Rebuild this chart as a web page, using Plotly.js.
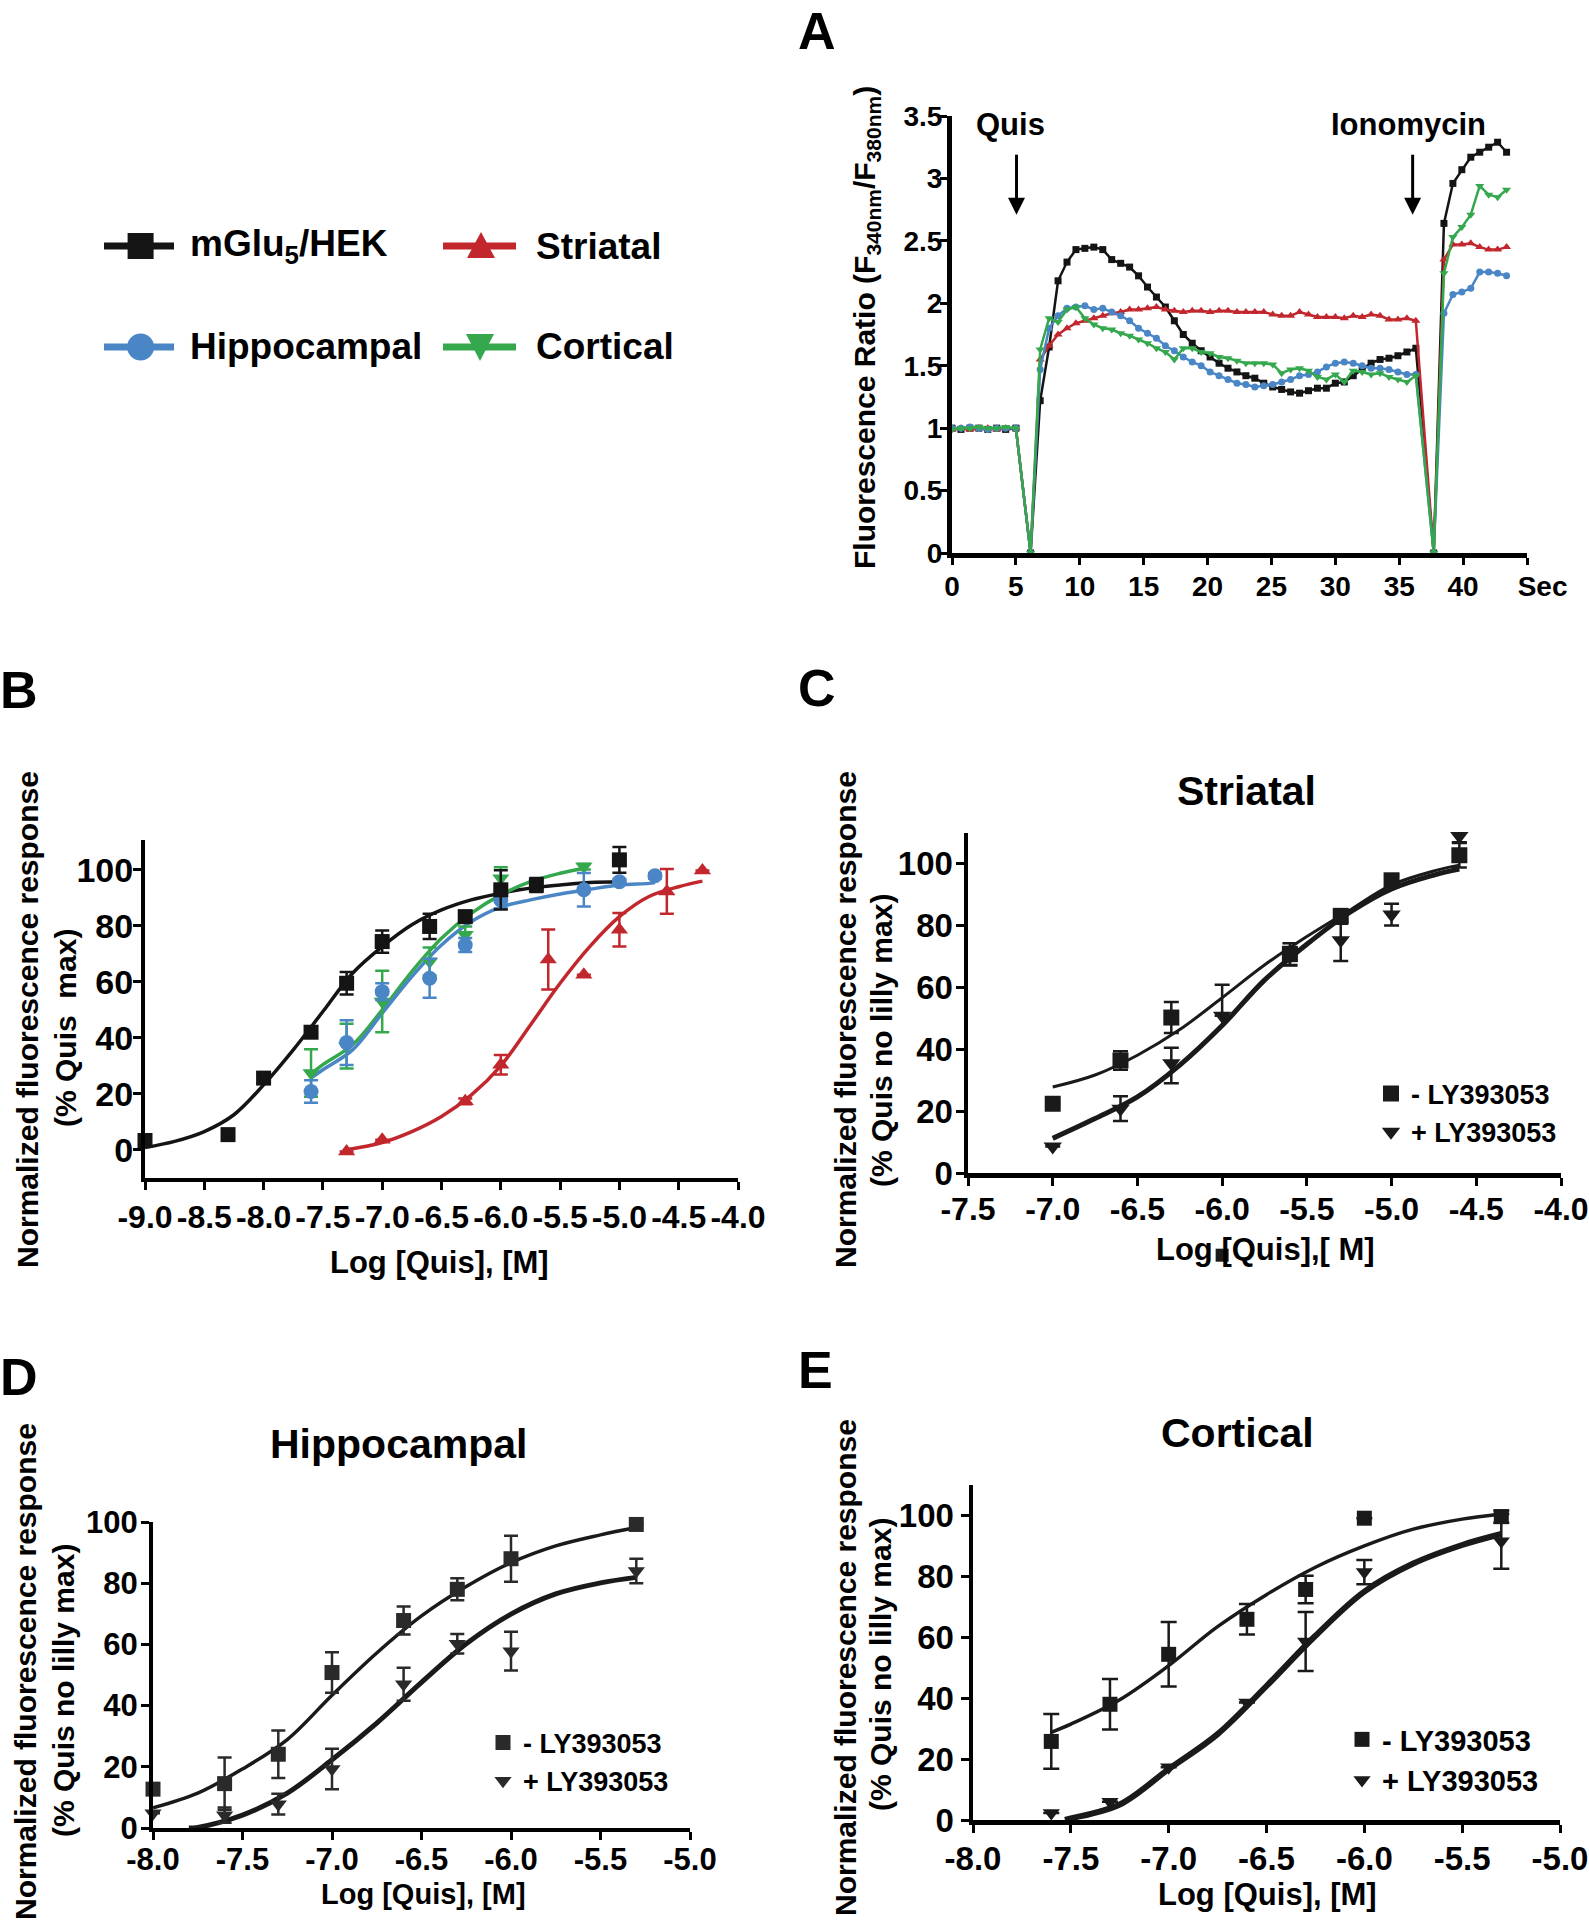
<!DOCTYPE html>
<html><head><meta charset="utf-8">
<script src="https://cdn.plot.ly/plotly-3.0.1.min.js"></script>
<style>html,body{margin:0;padding:0;background:#fff}#fig{width:1589px;height:1920px}</style>
</head><body><div id="fig"></div>
<script>
// ================= DATA =================
// Panel A: calcium traces (time in s, fluorescence ratio)
const aTime = [0,0.7,1.4,2.1,2.8,3.5,4.2,5.0, 6.15,
  6.9,7.6,8.3,9.0,9.7,10.4,11.1,11.8,12.5,13.2,13.9,14.6,15.3,16.0,16.7,17.4,18.1,18.8,19.5,20.2,20.9,21.6,22.3,23.0,23.7,
  24.4,25.1,25.8,26.5,27.2,27.9,28.6,29.3,30.0,30.7,31.4,32.1,32.8,33.5,34.2,34.9,35.6,36.3,
  37.7, 38.5,39.2,39.9,40.6,41.3,42.0,42.7,43.4];
const aHEK = [1.00,0.99,1.00,1.00,0.99,1.00,0.99,1.00, 0,
  1.22,1.65,2.18,2.33,2.43,2.44,2.45,2.43,2.35,2.32,2.29,2.22,2.13,2.05,1.97,1.86,1.75,1.68,1.62,1.57,1.52,1.48,1.45,1.42,1.40,
  1.36,1.33,1.31,1.29,1.28,1.30,1.32,1.32,1.36,1.37,1.42,1.47,1.52,1.55,1.56,1.58,1.61,1.64,
  0, 2.64,2.96,3.07,3.17,3.21,3.25,3.29,3.21];
const aStriatal = [0.99,1.00,0.99,1.00,1.00,0.99,1.00,1.00, 0,
  1.55,1.66,1.75,1.80,1.84,1.86,1.88,1.90,1.92,1.93,1.95,1.95,1.96,1.97,1.95,1.94,1.93,1.94,1.94,1.93,1.94,1.94,1.93,1.93,1.93,
  1.93,1.91,1.90,1.90,1.93,1.91,1.89,1.89,1.89,1.88,1.90,1.89,1.91,1.90,1.87,1.87,1.88,1.86,
  0, 2.35,2.47,2.47,2.48,2.45,2.43,2.43,2.45];
const aHippocampal = [1.00,1.00,1.01,1.00,0.99,1.00,1.00,1.00, 0,
  1.47,1.80,1.90,1.96,1.97,1.98,1.95,1.96,1.93,1.90,1.86,1.80,1.76,1.72,1.66,1.62,1.57,1.53,1.50,1.45,1.42,1.39,1.36,1.35,1.33,
  1.34,1.35,1.37,1.39,1.42,1.43,1.45,1.49,1.52,1.53,1.52,1.50,1.48,1.48,1.47,1.45,1.43,1.43,
  0, 1.92,2.07,2.09,2.12,2.25,2.25,2.24,2.22];
const aCortical = [0.99,1.00,1.00,1.01,1.00,1.00,1.01,1.00, 0,
  1.63,1.88,1.85,1.95,1.97,1.88,1.83,1.80,1.79,1.76,1.74,1.71,1.68,1.64,1.61,1.55,1.64,1.64,1.61,1.60,1.57,1.56,1.54,1.52,1.52,
  1.52,1.51,1.44,1.47,1.48,1.46,1.41,1.39,1.43,1.37,1.46,1.45,1.43,1.44,1.41,1.39,1.37,1.42,
  0, 2.24,2.53,2.61,2.71,2.94,2.87,2.85,2.91];
const aXTickVals = [0,5,10,15,20,25,30,35,40,45];
const aXTickText = ['0','5','10','15','20','25','30','35','40','\u00a0\u00a0\u00a0\u00a0Sec'];
const aYTickVals = [0,0.5,1,1.5,2,2.5,3,3.5];
const aYTickText = ['0','0.5','1','1.5','2','2.5','3','3.5'];
const eventLabels = ['Quis','Ionomycin'];
const eventTimes = [5.05, 36.05];

// Panel B: concentration-response (log M, % Quis max)
const bHEKx = [-9.0,-8.3,-8.0,-7.6,-7.3,-7.0,-6.6,-6.3,-6.0,-5.7,-5.0];
const bHEKy = [3.3,5.4,25.6,42,59.5,74.4,79.8,83.3,92.9,94.6,103.6];
const bHEKerr = [1,1,2,2,4,4,4.5,2,7,2.5,4.6];
const bHipx = [-7.6,-7.3,-7.0,-6.6,-6.3,-6.0,-5.3,-5.0,-4.7];
const bHipy = [20.8,38.3,56.5,61.3,73.2,89.3,92.9,95.8,97.9];
const bHiperr = [4,8,3,7,2.5,3,6,1,1];
const bCorx = [-7.6,-7.3,-7.0,-6.6,-6.3,-6.0,-5.3];
const bCory = [27.4,37,53,67.3,76.8,97,101.2];
const bCorerr = [8.5,8,11,5,3,4,1];
const bStrx = [-7.3,-7.0,-6.3,-6.0,-5.6,-5.3,-5.0,-4.6,-4.3];
const bStry = [-0.6,3.6,17.3,30.4,68,62.5,78.6,92.3,99.8];
const bStrerr = [0,0,1,3.5,10.7,0,6,8,0];
const bFitHEKx = [-9.0,-8.75,-8.5,-8.25,-8.0,-7.75,-7.5,-7.25,-7.0,-6.75,-6.5,-6.25,-6.0,-5.75,-5.5,-5.25,-5.0];
const bFitHEKy = [0.8,3.0,6.5,12.5,23.2,35.7,49.4,63.1,72.6,80.4,85.7,89.3,91.7,93.5,94.6,95.5,95.8];
const bFitHipx = [-7.6,-7.5,-7.25,-7.0,-6.75,-6.5,-6.25,-6.0,-5.75,-5.5,-5.25,-5.0,-4.75,-4.7];
const bFitHipy = [25.6,28.6,35.7,48.8,61.9,73.2,81.5,86.7,89.3,91.4,93.1,94.6,95.2,95.5];
const bFitCorx = [-7.6,-7.5,-7.25,-7.0,-6.75,-6.5,-6.25,-6.0,-5.75,-5.5,-5.3];
const bFitCory = [27.1,30.4,37.5,50,63.7,75.6,84.5,91.1,95.8,98.8,100.6];
const bFitStrx = [-7.3,-7.0,-6.75,-6.5,-6.25,-6.0,-5.75,-5.5,-5.25,-5.0,-4.75,-4.5,-4.3];
const bFitStry = [0,2.6,6.5,11.9,19.5,30,44.6,59.5,72.6,83.3,90.5,94,96];
const bXTickVals = [-9,-8.5,-8,-7.5,-7,-6.5,-6,-5.5,-5,-4.5,-4];
const bXTickText = ['-9.0','-8.5','-8.0','-7.5','-7.0','-6.5','-6.0','-5.5','-5.0','-4.5','-4.0'];
const pctTickVals = [0,20,40,60,80,100];
const pctTickText = ['0','20','40','60','80','100'];

// Panel C: Striatal
const cX = [-7.0,-6.6,-6.3,-5.6,-5.3,-5.0,-4.6];
const cNoLYy = [22.4,36.4,50.3,70.8,83.2,94.7,102.8];
const cNoLYerr = [0,3,5,3.5,2,1.5,4];
const cStrayX = [-6.0];           // stray "- LY393053" square drawn below the axis in the original
const cStrayY = [-26.6];
const cLYx = [-7.0,-6.6,-6.3,-6.0,-5.6,-5.3,-5.0,-4.6];
const cLYy = [8.6,20.8,35.5,50.9,70.1,75.3,83.6,109];
const cLYerrPlus = [0,4,5,10,3,5.3,3.5,2];
const cLYerrMinus = [0,4,6.5,0,3,6.7,3.5,2];
const cFitX = [-7.0,-6.75,-6.5,-6.25,-6.0,-5.75,-5.5,-5.25,-5.0,-4.75,-4.6];
const cFitNoLY = [27.8,31.7,38.1,46.4,56.7,67.3,76.5,84.9,93.2,97.7,99.6];
const cFitLY = [11.2,17.6,24.6,34.9,47.7,62.4,74,84.2,91.9,96.4,98.3];
const cXTickVals = [-7.5,-7,-6.5,-6,-5.5,-5,-4.5,-4];
const cXTickText = ['-7.5','-7.0','-6.5','-6.0','-5.5','-5.0','-4.5','-4.0'];

// Panel D: Hippocampal
const dX = [-8.0,-7.6,-7.3,-7.0,-6.6,-6.3,-6.0,-5.3];
const dNoLYy = [12.7,14.5,24.1,50.8,67.8,78,88,99.2];
const dNoLYerr = [0,8.5,7.8,6.6,4.6,3.6,7.5,0];
const dLYy = [4.8,4.2,7.8,19.3,47,60.2,57.8,84];
const dLYerr = [0,2.5,3.4,6.6,5.4,3.2,6.3,4];
const dFitNoLYx = [-8.0,-7.75,-7.5,-7.25,-7.0,-6.75,-6.5,-6.25,-6.0,-5.75,-5.5,-5.3];
const dFitNoLYy = [6.6,11.4,19.3,28.9,43.4,57.2,69.3,78.9,86.7,92.2,95.8,98.2];
const dFitLYx = [-7.8,-7.75,-7.5,-7.25,-7.0,-6.75,-6.5,-6.25,-6.0,-5.75,-5.5,-5.3];
const dFitLYy = [0,0.2,4.2,11.4,22.3,34.3,47.6,60.2,69.9,76.5,80.1,81.9];
const deXTickVals = [-8,-7.5,-7,-6.5,-6,-5.5,-5];
const deXTickText = ['-8.0','-7.5','-7.0','-6.5','-6.0','-5.5','-5.0'];

// Panel E: Cortical
const eX = [-7.6,-7.3,-7.0,-6.6,-6.3,-6.0,-5.3];
const eNoLYy = [25.8,38,54.4,65.9,75.7,99.1,99.6];
const eNoLYerr = [9,8.3,10.6,5,4.5,0,2];
const eLYy = [2.3,6,17.3,38.6,58.6,81.4,91.5];
const eLYerr = [0,0,0,0,9.7,4,9];
const eFitNoLYx = [-7.6,-7.5,-7.25,-7.0,-6.75,-6.5,-6.25,-6.0,-5.75,-5.5,-5.3];
const eFitNoLYy = [28.8,31.5,39.5,50.7,63.5,74,83,90,95.5,98.8,100.5];
const eFitLYx = [-7.53,-7.5,-7.25,-7.0,-6.75,-6.5,-6.25,-6.0,-5.75,-5.5,-5.3];
const eFitLYy = [0,0.5,5.1,16.7,28.2,44,60.5,75,84.2,90.3,93.9];

const seriesNames = ['mGlu<sub>5</sub>/HEK','Striatal','Hippocampal','Cortical'];
const lyNames = ['- LY393053','+ LY393053'];

// ================= STYLE / LAYOUT =================
const FONT = 'Liberation Sans, Arial, Helvetica, sans-serif';
const W = 1589, H = 1920;
const px = v => v / W;
const py = v => 1 - v / H;
const COL = {hek:'#141414', str:'#c1272d', hip:'#4a86c6', cor:'#35a84e', dk:'#1a1a1a'};

function lineMarkers(xa, ya, x, y, color, symbol, size) {
  return {type:'scatter', mode:'lines+markers', x, y, xaxis:xa, yaxis:ya,
    line:{color, width:2.5}, marker:{color, symbol, size}, showlegend:false, cliponaxis:false, hoverinfo:'skip'};
}
function pts(xa, ya, x, y, err, color, symbol, size, cap, extra) {
  const t = {type:'scatter', mode:'markers', x, y, xaxis:xa, yaxis:ya,
    marker:{color, symbol, size},
    error_y:{type:'data', array:err, visible:true, color, thickness:2.5, width:cap},
    showlegend:false, cliponaxis:false, hoverinfo:'skip'};
  return Object.assign(t, extra || {});
}
function fit(xa, ya, x, y, color, width) {
  return {type:'scatter', mode:'lines', x, y, xaxis:xa, yaxis:ya,
    line:{color, width, shape:'spline', smoothing:1}, showlegend:false, cliponaxis:false, hoverinfo:'skip'};
}

const traces = [
  // A
  lineMarkers('x','y', aTime, aHEK, COL.hek, 'square', 7),
  lineMarkers('x','y', aTime, aStriatal, COL.str, 'triangle-up', 8),
  lineMarkers('x','y', aTime, aHippocampal, COL.hip, 'circle', 7),
  lineMarkers('x','y', aTime, aCortical, COL.cor, 'triangle-down', 8),
  // B fits
  fit('x2','y2', bFitHEKx, bFitHEKy, COL.hek, 3.5),
  fit('x2','y2', bFitStrx, bFitStry, COL.str, 3.5),
  fit('x2','y2', bFitCorx, bFitCory, COL.cor, 3.5),
  fit('x2','y2', bFitHipx, bFitHipy, COL.hip, 3.5),
  // B points
  pts('x2','y2', bCorx, bCory, bCorerr, COL.cor, 'triangle-down', 15, 7),
  pts('x2','y2', bHipx, bHipy, bHiperr, COL.hip, 'circle', 15, 7),
  pts('x2','y2', bStrx, bStry, bStrerr, COL.str, 'triangle-up', 15, 7),
  pts('x2','y2', bHEKx, bHEKy, bHEKerr, COL.hek, 'square', 15, 7),
  // C
  fit('x3','y3', cFitX, cFitNoLY, COL.dk, 3),
  fit('x3','y3', cFitX, cFitLY, COL.dk, 5),
  pts('x3','y3', cX, cNoLYy, cNoLYerr, COL.dk, 'square', 16, 7.5, {showlegend:true, legend:'legend3', name:lyNames[0]}),
  {type:'scatter', mode:'markers', x:cStrayX, y:cStrayY, xaxis:'x3', yaxis:'y6', marker:{color:COL.dk, symbol:'square', size:13},
    showlegend:false, cliponaxis:false, hoverinfo:'skip'},
  Object.assign(pts('x3','y3', cLYx, cLYy, cLYerrPlus, COL.dk, 'triangle-down', 16, 7.5, {showlegend:true, legend:'legend3', name:lyNames[1]}),
    {error_y:{type:'data', array:cLYerrPlus, arrayminus:cLYerrMinus, symmetric:false, visible:true, color:COL.dk, thickness:2.5, width:7.5}}),
  // D
  fit('x4','y4', dFitNoLYx, dFitNoLYy, COL.dk, 3.5),
  fit('x4','y4', dFitLYx, dFitLYy, COL.dk, 5),
  pts('x4','y4', dX, dNoLYy, dNoLYerr, '#2a2a2a', 'square', 15, 7, {showlegend:true, legend:'legend4', name:lyNames[0]}),
  pts('x4','y4', dX, dLYy, dLYerr, '#2a2a2a', 'triangle-down', 15, 7, {showlegend:true, legend:'legend4', name:lyNames[1]}),
  // E
  fit('x5','y5', eFitNoLYx, eFitNoLYy, COL.dk, 3.5),
  fit('x5','y5', eFitLYx, eFitLYy, COL.dk, 6),
  pts('x5','y5', eX, eNoLYy, eNoLYerr, COL.dk, 'square', 15, 8, {showlegend:true, legend:'legend5', name:lyNames[0]}),
  pts('x5','y5', eX, eLYy, eLYerr, COL.dk, 'triangle-down', 15, 8, {showlegend:true, legend:'legend5', name:lyNames[1]})
];

function axis(o) {
  return Object.assign({showline:true, linecolor:'#000', linewidth:4, ticks:'outside', ticklen:8, tickwidth:3,
    tickcolor:'#000', showgrid:false, zeroline:false, fixedrange:true, tickmode:'array', ticklabeloverflow:'allow',
    tickfont:{family:FONT, size:31, color:'#000', weight:'bold'}}, o);
}
function tf(size){ return {family:FONT, size, color:'#000', weight:'bold'}; }

const layout = {
  width:W, height:H, autosize:false, margin:{l:0,r:0,t:0,b:0},
  paper_bgcolor:'#fff', plot_bgcolor:'rgba(0,0,0,0)', showlegend:true,
  xaxis: axis({domain:[px(952),px(1527)], range:[0,45], anchor:'y', tickvals:aXTickVals, ticktext:aXTickText, linewidth:5, tickfont:tf(28), ticklen:7, ticklabelstandoff:-3}),
  yaxis: axis({domain:[py(553),py(116)], range:[0,3.5], anchor:'x', tickvals:aYTickVals, ticktext:aYTickText, linewidth:5, tickfont:tf(28), ticklen:7, ticklabelstandoff:-8}),
  xaxis2: axis({domain:[px(145),px(738)], range:[-9,-4], anchor:'y2', tickvals:bXTickVals, ticktext:bXTickText, tickfont:tf(32)}),
  yaxis2: axis({domain:[py(1178),py(840)], range:[-10.1,110.7], anchor:'x2', tickvals:pctTickVals, ticktext:pctTickText, tickfont:tf(34), ticklabelstandoff:-7}),
  xaxis3: axis({domain:[px(968),px(1561)], range:[-7.5,-4.0], anchor:'y3', tickvals:cXTickVals, ticktext:cXTickText, tickfont:tf(32), linewidth:4.5, ticklabelstandoff:-4}),
  yaxis3: axis({domain:[py(1173),py(833)], range:[0,110], anchor:'x3', tickvals:pctTickVals, ticktext:pctTickText, tickfont:tf(33), linewidth:4.5, ticklabelstandoff:-4}),
  yaxis6: {domain:[py(1173 + 30 * 3.09),py(833)], range:[-30,110], anchor:'x3', visible:false, fixedrange:true, showgrid:false, zeroline:false},
  xaxis4: axis({domain:[px(153),px(690)], range:[-8,-5], anchor:'y4', tickvals:deXTickVals, ticktext:deXTickText, tickfont:tf(31), ticklabelstandoff:-7}),
  yaxis4: axis({domain:[py(1828),py(1522)], range:[0,100], anchor:'x4', tickvals:pctTickVals, ticktext:pctTickText, tickfont:tf(31), ticklabelstandoff:-3}),
  xaxis5: axis({domain:[px(973),px(1560)], range:[-8,-5], anchor:'y5', tickvals:deXTickVals, ticktext:deXTickText, tickfont:tf(33), linewidth:4.5, ticklabelstandoff:-2}),
  yaxis5: axis({domain:[py(1820),py(1485)], range:[0,110], anchor:'x5', tickvals:pctTickVals, ticktext:pctTickText, tickfont:tf(33), linewidth:4.5}),
  legend3: {x:px(1371), xanchor:'left', y:py(1113), yanchor:'middle', font:tf(27), bgcolor:'rgba(0,0,0,0)', tracegroupgap:0},
  legend4: {x:px(483), xanchor:'left', y:py(1762), yanchor:'middle', font:tf(27), bgcolor:'rgba(0,0,0,0)', tracegroupgap:0},
  legend5: {x:px(1342), xanchor:'left', y:py(1760), yanchor:'middle', font:tf(29), bgcolor:'rgba(0,0,0,0)', tracegroupgap:0},
  annotations: [], shapes: []
};

const ann = layout.annotations, shp = layout.shapes;
function txt(text, x, y, size, extra) {
  ann.push(Object.assign({text, x:px(x), y:py(y), xref:'paper', yref:'paper', showarrow:false,
    xanchor:'center', yanchor:'middle', font:tf(size)}, extra || {}));
}
// panel letters
txt('A', 817, 31, 52); txt('B', 19, 690, 52); txt('C', 817, 688, 52); txt('D', 19, 1377, 52); txt('E', 815, 1370, 52);
// panel titles
txt('Striatal', 1246, 791, 41); txt('Hippocampal', 398, 1444, 41); txt('Cortical', 1237, 1433, 41);
// axis titles
txt('Fluorescence Ratio (F<sub>340nm</sub>/F<sub>380nm</sub>)', 866, 328, 30, {textangle:-90});
txt('Log [Quis], [M]', 439, 1262, 31);
txt('Log [Quis],[ M]', 1265, 1249, 31);
txt('Log [Quis], [M]', 423, 1894, 29);
txt('Log [Quis], [M]', 1267, 1894, 31);
txt('Normalized fluorescence response', 27, 1020, 30, {textangle:-90});
txt('(% Quis\u00a0 max)', 65, 1028, 30, {textangle:-90});
txt('Normalized fluorescence response', 845, 1020, 30, {textangle:-90});
txt('(% Quis no lilly max)', 881, 1040, 30, {textangle:-90});
txt('Normalized fluorescence response', 25, 1672, 30, {textangle:-90});
txt('(% Quis no lilly max)', 63, 1691, 30, {textangle:-90});
txt('Normalized fluorescence response', 845, 1668, 30, {textangle:-90});
txt('(% Quis no lilly max)', 880, 1665, 30, {textangle:-90});
// event arrows (shaft + head) and labels in panel A
eventTimes.forEach((t, i) => {
  shp.push({type:'line', xref:'x', yref:'y', x0:t, x1:t, y0:3.19, y1:2.8, line:{color:'#000', width:3}});
  shp.push({type:'path', xref:'x', yref:'y', xsizemode:'pixel', ysizemode:'pixel', xanchor:t, yanchor:2.71,
    path:'M-8.5,17 L8.5,17 L0,0 Z', fillcolor:'#000', line:{width:0}});
  ann.push({text:eventLabels[i], x:t + (i === 0 ? -0.45 : -0.3), y:3.43, xref:'x', yref:'y', showarrow:false,
    xanchor:'center', yanchor:'middle', font:tf(31)});
});

// top-left legend for panels A/B (line + marker keys)
const legendRows = [
  {name:seriesNames[0], color:COL.hek, sym:'square', x0:104, x1:174, mx:140.6, y:246, tx:188},
  {name:seriesNames[1], color:COL.str, sym:'up', x0:443, x1:516, mx:481, y:246, tx:534},
  {name:seriesNames[2], color:COL.hip, sym:'circle', x0:104, x1:174, mx:140.6, y:347, tx:188},
  {name:seriesNames[3], color:COL.cor, sym:'down', x0:443, x1:516, mx:480, y:347, tx:534}
];
legendRows.forEach(r => {
  shp.push({type:'line', xref:'paper', yref:'paper', x0:px(r.x0), x1:px(r.x1), y0:py(r.y), y1:py(r.y),
    line:{color:r.color, width:7}});
  const base = {xref:'paper', yref:'paper', xsizemode:'pixel', ysizemode:'pixel', xanchor:px(r.mx), yanchor:py(r.y),
    fillcolor:r.color, line:{width:0}};
  if (r.sym === 'square') shp.push(Object.assign({type:'rect', x0:-13, x1:13, y0:-13, y1:13}, base));
  else if (r.sym === 'circle') shp.push(Object.assign({type:'circle', x0:-13.5, x1:13.5, y0:-13.5, y1:13.5}, base));
  else if (r.sym === 'up') shp.push(Object.assign({type:'path', path:'M-14,-12 L14,-12 L0,14 Z'}, base));
  else shp.push(Object.assign({type:'path', path:'M-14,13 L14,13 L0,-14 Z'}, base));
  txt(r.name, r.tx, r.y, 37, {xanchor:'left'});
});

Plotly.newPlot('fig', traces, layout, {staticPlot:true});
</script></body></html>
